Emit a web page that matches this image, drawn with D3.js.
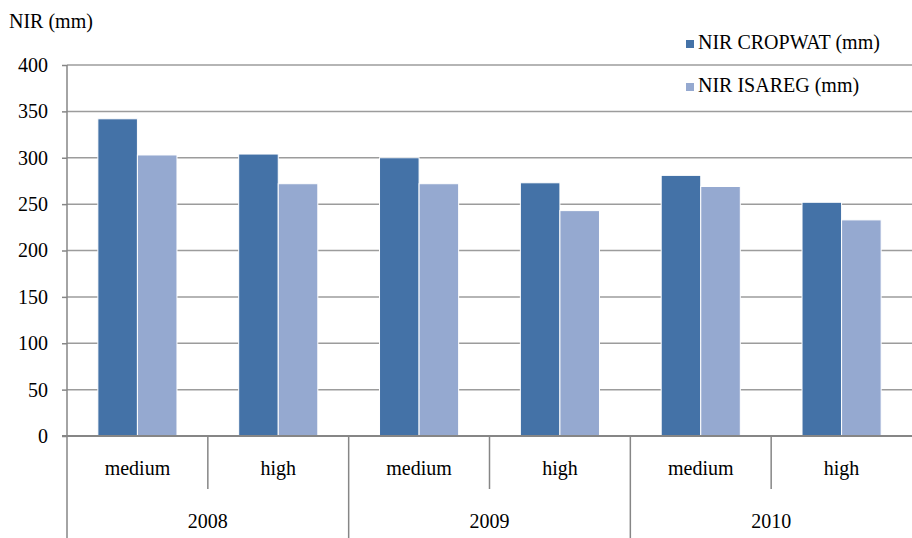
<!DOCTYPE html>
<html>
<head>
	<title>NIR bar chart</title>
	<script src="https://d3js.org/d3.v7.min.js" charset="utf-8"></script>
	<style>
		body { margin: 0; background: #fff; }
		svg text { font-family: "Liberation Serif", "Times New Roman", "DejaVu Serif", serif; fill: #000; }
	</style>
</head>
<body>
	<svg width="912" height="538"></svg>
	<script>
		const years = ["2008", "2009", "2010"];
		const levels = ["medium", "high"];
		const seriesNames = ["NIR CROPWAT (mm)", "NIR ISAREG (mm)"];
		const cropwat = [342, 304, 300, 273, 281, 252];
		const isareg = [303, 272, 272, 243, 269, 233];
		const yTicks = [0, 50, 100, 150, 200, 250, 300, 350, 400];
		const colors = ["#4472A7", "#95A9D0"];

		const plotLeft = 67, plotRight = 912, plotTop = 65, plotBottom = 436;
		const fs = 20;
		const svg = d3.select('svg');

		// one category per year/level pair
		const cats = [];
		years.forEach(y => levels.forEach(l => cats.push(y + "|" + l)));

		const x = d3.scaleBand().domain(cats).range([plotLeft, plotRight]).paddingInner(0).paddingOuter(0);
		const y = d3.scaleLinear().domain([0, 400]).range([plotBottom, plotTop]);
		const inner = d3.scaleBand().domain([0, 1]).range([0, x.bandwidth()]).paddingOuter(0.78).paddingInner(0);

		// gridlines
		svg.append('g').selectAll('line')
			.data(yTicks.filter(d => d > 0))
			.enter().append('line')
			.attr('x1', plotLeft).attr('x2', plotRight)
			.attr('y1', d => y(d)).attr('y2', d => y(d))
			.attr('stroke', '#9c9c9c').attr('stroke-width', 1.5);

		// y axis
		const yAxis = svg.append('g')
			.attr('transform', `translate(${plotLeft},0)`)
			.call(d3.axisLeft(y).tickValues(yTicks).tickSize(5).tickPadding(14));
		yAxis.attr('font-family', null);
		yAxis.select('.domain').remove();
		yAxis.selectAll('line').attr('stroke', '#868686').attr('stroke-width', 1.5);
		yAxis.selectAll('text').attr('font-size', fs).attr('fill', '#000');

		// bars
		const rows = cats.map((c, i) => ({ cat: c, vals: [cropwat[i], isareg[i]] }));
		const groups = svg.append('g').selectAll('g')
			.data(rows)
			.enter().append('g')
			.attr('transform', d => `translate(${x(d.cat)},0)`);
		groups.selectAll('rect')
			.data(d => d.vals.map((v, k) => ({ v, k })))
			.enter().append('rect')
			.attr('x', d => inner(d.k))
			.attr('width', inner.bandwidth())
			.attr('y', d => y(d.v))
			.attr('height', d => plotBottom - y(d.v))
			.attr('fill', d => colors[d.k])
			.attr('stroke', '#fff').attr('stroke-width', 1);

		// axis lines
		svg.append('line').attr('x1', plotLeft).attr('x2', plotLeft).attr('y1', plotTop).attr('y2', 538)
			.attr('stroke', '#868686').attr('stroke-width', 1.5);
		svg.append('line').attr('x1', plotLeft - 5).attr('x2', plotRight).attr('y1', plotBottom).attr('y2', plotBottom)
			.attr('stroke', '#868686').attr('stroke-width', 2);

		// category separators
		cats.forEach((c, i) => {
			if (i === 0) return;
			const xx = x(c);
			const isYear = i % levels.length === 0;
			svg.append('line').attr('x1', xx).attr('x2', xx)
				.attr('y1', plotBottom).attr('y2', isYear ? 538 : 489)
				.attr('stroke', '#868686').attr('stroke-width', 1.5);
		});

		// level labels
		svg.append('g').selectAll('text')
			.data(cats)
			.enter().append('text')
			.attr('x', d => x(d) + x.bandwidth() / 2)
			.attr('y', 475)
			.attr('text-anchor', 'middle')
			.attr('font-size', fs)
			.text(d => d.split("|")[1]);

		// year labels
		svg.append('g').selectAll('text')
			.data(years)
			.enter().append('text')
			.attr('x', d => x(d + "|" + levels[0]) + x.bandwidth() * levels.length / 2)
			.attr('y', 528)
			.attr('text-anchor', 'middle')
			.attr('font-size', fs)
			.text(d => d);

		// y title
		svg.append('text').attr('x', 9).attr('y', 28).attr('font-size', fs).text("NIR (mm)");

		// legend
		const legend = svg.append('g').selectAll('g')
			.data(seriesNames)
			.enter().append('g')
			.attr('transform', (d, i) => `translate(686,${40 + i * 43})`);
		legend.append('rect').attr('width', 8).attr('height', 8).attr('fill', (d, i) => colors[i]);
		legend.append('text').attr('x', 12).attr('y', 9).attr('font-size', fs).text(d => d);
	</script>
</body>
</html>
